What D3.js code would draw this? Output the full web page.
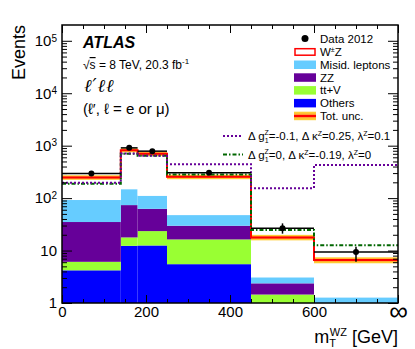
<!DOCTYPE html>
<html>
<head>
<meta charset="utf-8">
<script src="https://cdn.jsdelivr.net/npm/d3@7"></script>
<style>
  body { margin: 0; background: #fff; }
  svg { font-family: "Liberation Sans", Arial, sans-serif; }
</style>
</head>
<body>
<div id="container"></div>
<script>
let w = 415;
let h = 349;

// bins of mT(WZ) in GeV, last bin goes to infinity (drawn up to 800)
let binEdges = [0, 140, 180, 250, 450, 600, 800];

// stacked expectations, bottom to top
let others = [4.2, 12.3, 12.5, 5.5, 0.5, 0.2];
let ttV    = [1.9, 5.5, 11.0, 10.8, 0.95, 0.3];
let zz     = [28.9, 55.8, 39.0, 13.4, 0.92, 0.4];
let misid  = [57.0, 74.4, 48.5, 17.8, 0.72, 0.38];
let wz     = [156, 673, 587, 207.5, 14.7, 5.3];
// relative total uncertainty per bin
let totUnc = [0.10, 0.09, 0.09, 0.10, 0.12, 0.13];

// data 2012 with asymmetric errors
let dataVal = [296, 908, 786, 303, 26.5, 9.4];
let dataLo  = [279, 878, 758, 286, 21.0, 6.1];
let dataHi  = [313, 938, 814, 320, 33.0, 11.8];

// anomalous coupling predictions
let atgc1 = [196, 710, 640, 444, 155, 426];
let atgc2 = [188, 705, 640, 283, 24.6, 12.6];

let layerKeys   = ["others", "ttV", "zz", "misid", "wz"];
let layerColors = {others: "#0000ff", ttV: "#99ff33", zz: "#660099", misid: "#66ccff", wz: "#ffffff"};

let xTickVals = [0, 200, 400, 600, 800];
let yTickVals = [1, 10, 1e2, 1e3, 1e4, 1e5];

let viz = d3.select("#container")
  .append("svg")
    .attr("width", w)
    .attr("height", h)
    .style("background-color", "white");

let padL = 62, padR = 398, padT = 25, padB = 303;

let xScale = d3.scaleLinear().domain([0, 800]).range([padL, padR]);
let yScale = d3.scaleLog().domain([1, 2e5]).range([padB, padT]).clamp(true);

// rows for the stack
let rows = binEdges.slice(0, -1).map(function(e, i){
  return {lo: e, hi: binEdges[i+1], others: others[i], ttV: ttV[i], zz: zz[i], misid: misid[i], wz: wz[i]};
});
let stacked = d3.stack().keys(layerKeys)(rows);

let plot = viz.append("g").attr("class", "plot");

// filled histograms
plot.selectAll(".layer").data(stacked).enter()
  .append("g")
    .attr("class", "layer")
    .attr("fill", function(d){ return layerColors[d.key]; })
  .selectAll("rect").data(function(d){ return d; }).enter()
  .append("rect")
    .attr("x", function(d){ return xScale(d.data.lo); })
    .attr("width", function(d){ return xScale(d.data.hi) - xScale(d.data.lo); })
    .attr("y", function(d){ return yScale(Math.max(d[1], 0.5)); })
    .attr("height", function(d){ return yScale(Math.max(d[0], 0.5)) - yScale(Math.max(d[1], 0.5)); });

let totals = stacked[stacked.length - 1].map(function(d){ return d[1]; });

// total uncertainty band
plot.selectAll(".band").data(totals).enter()
  .append("rect")
    .attr("class", "band")
    .attr("x", function(d, i){ return xScale(binEdges[i]); })
    .attr("width", function(d, i){ return xScale(binEdges[i+1]) - xScale(binEdges[i]); })
    .attr("y", function(d, i){ return yScale(d * (1 + totUnc[i])); })
    .attr("height", function(d, i){ return yScale(d * (1 - totUnc[i])) - yScale(d * (1 + totUnc[i])); })
    .attr("fill", "#ffcc33");
plot.selectAll(".band2").data(totals).enter()
  .append("rect")
    .attr("class", "band2")
    .attr("x", function(d, i){ return xScale(binEdges[i]); })
    .attr("width", function(d, i){ return xScale(binEdges[i+1]) - xScale(binEdges[i]); })
    .attr("y", function(d, i){ return yScale(d * (1 + totUnc[i] * 0.5)); })
    .attr("height", function(d, i){ return yScale(d * (1 - totUnc[i] * 0.5)) - yScale(d * (1 + totUnc[i] * 0.5)); })
    .attr("fill", "#ff9933");

// helper: step outline of a histogram
function stepPoints(vals){
  let pts = vals.map(function(v, i){ return [binEdges[i], v]; });
  pts.push([binEdges[binEdges.length - 1], vals[vals.length - 1]]);
  return pts;
}
let stepLine = d3.line()
  .x(function(d){ return xScale(d[0]); })
  .y(function(d){ return yScale(d[1]); })
  .curve(d3.curveStepAfter);

plot.append("path")
  .attr("d", stepLine(stepPoints(totals)))
  .attr("fill", "none")
  .attr("stroke", "#ff0000")
  .attr("stroke-width", 2);

plot.append("path")
  .attr("d", stepLine(stepPoints(atgc2)))
  .attr("fill", "none")
  .attr("stroke", "#006600")
  .attr("stroke-width", 2)
  .attr("stroke-dasharray", "4,2,1.5,2");

plot.append("path")
  .attr("d", stepLine(stepPoints(atgc1)))
  .attr("fill", "none")
  .attr("stroke", "#660099")
  .attr("stroke-width", 2)
  .attr("stroke-dasharray", "2,2");

// data points
let dataG = plot.selectAll(".datagroup").data(dataVal).enter()
  .append("g").attr("class", "datagroup");
dataG.append("line")
  .attr("x1", function(d, i){ return xScale(binEdges[i]); })
  .attr("x2", function(d, i){ return xScale(binEdges[i+1]); })
  .attr("y1", function(d){ return yScale(d); })
  .attr("y2", function(d){ return yScale(d); })
  .attr("stroke", "black").attr("stroke-width", 1.5);
dataG.append("line")
  .attr("x1", function(d, i){ return xScale((binEdges[i] + binEdges[i+1]) / 2); })
  .attr("x2", function(d, i){ return xScale((binEdges[i] + binEdges[i+1]) / 2); })
  .attr("y1", function(d, i){ return yScale(dataHi[i]); })
  .attr("y2", function(d, i){ return yScale(dataLo[i]); })
  .attr("stroke", "black").attr("stroke-width", 1.5);
dataG.append("circle")
  .attr("cx", function(d, i){ return xScale((binEdges[i] + binEdges[i+1]) / 2); })
  .attr("cy", function(d){ return yScale(d); })
  .attr("r", 3)
  .attr("fill", "black");

// axes, ROOT style ticks pointing inwards on all four sides
let minorX = d3.range(0, 801, 50);
let minorY = [];
for (let p = 0; p < 6; p++) {
  for (let k = 2; k <= 9; k++) {
    if (k * Math.pow(10, p) < 2e5) minorY.push(k * Math.pow(10, p));
  }
}

let xAxisGroup = viz.append("g").attr("class", "xaxis")
  .attr("transform", "translate(0," + padB + ")")
  .call(d3.axisBottom(xScale).tickValues(xTickVals).tickSize(-8).tickPadding(3)
    .tickFormat(function(d){ return d == 800 ? "∞" : d; }));
viz.append("g").attr("transform", "translate(0," + padB + ")")
  .call(d3.axisBottom(xScale).tickValues(minorX).tickSize(-4).tickFormat(""));
viz.append("g").attr("transform", "translate(0," + padT + ")")
  .call(d3.axisTop(xScale).tickValues(xTickVals).tickSize(-8).tickFormat(""));
viz.append("g").attr("transform", "translate(0," + padT + ")")
  .call(d3.axisTop(xScale).tickValues(minorX).tickSize(-4).tickFormat(""));

let yAxisGroup = viz.append("g").attr("class", "yaxis")
  .attr("transform", "translate(" + padL + ",0)")
  .call(d3.axisLeft(yScale).tickValues(yTickVals).tickSize(-10).tickPadding(5).tickFormat(""));
viz.append("g").attr("transform", "translate(" + padL + ",0)")
  .call(d3.axisLeft(yScale).tickValues(minorY).tickSize(-5).tickFormat(""));
viz.append("g").attr("transform", "translate(" + padR + ",0)")
  .call(d3.axisRight(yScale).tickValues(yTickVals).tickSize(-10).tickFormat(""));
viz.append("g").attr("transform", "translate(" + padR + ",0)")
  .call(d3.axisRight(yScale).tickValues(minorY).tickSize(-5).tickFormat(""));

viz.selectAll(".domain").remove();
viz.selectAll(".tick line").attr("stroke", "black").attr("stroke-width", 1);

xAxisGroup.selectAll(".tick text")
  .attr("font-size", function(d){ return d == 800 ? 26 : 15; })
  .attr("dy", function(d){ return d == 800 ? "0.55em" : "0.71em"; })
  .attr("fill", "black")
  .style("font-family", "'Liberation Sans', Arial, sans-serif");

yAxisGroup.selectAll(".tick text")
  .attr("font-size", 15)
  .attr("fill", "black")
  .style("font-family", "'Liberation Sans', Arial, sans-serif")
  .each(function(d){
    let t = d3.select(this);
    let p = Math.round(Math.log10(d));
    if (p == 0) { t.text("1"); }
    else if (p == 1) { t.text("10"); }
    else {
      t.text("10");
      t.append("tspan").attr("dy", "-0.45em").attr("font-size", 10).text(p);
    }
  });

// frame
viz.append("rect")
  .attr("x", padL).attr("y", padT)
  .attr("width", padR - padL).attr("height", padB - padT)
  .attr("fill", "none").attr("stroke", "black").attr("stroke-width", 1.5);

// axis titles
viz.append("text")
  .attr("transform", "translate(25," + padT + ") rotate(-90)")
  .attr("text-anchor", "end")
  .attr("font-size", 18)
  .text("Events");

let xTitle = viz.append("text")
  .attr("x", padR).attr("y", 343)
  .attr("text-anchor", "end")
  .attr("font-size", 18);
xTitle.append("tspan").text("m");
xTitle.append("tspan").attr("font-size", 11).attr("dy", 4).text("T");
xTitle.append("tspan").attr("font-size", 11).attr("dx", -6).attr("dy", -11).text("WZ");
xTitle.append("tspan").attr("dy", 7).text(" [GeV]");

// ATLAS label and info
viz.append("text")
  .attr("x", 83).attr("y", 48)
  .attr("font-size", 16).attr("font-weight", "bold").attr("font-style", "italic")
  .text("ATLAS");

let lumi = viz.append("text").attr("x", 83).attr("y", 69).attr("font-size", 12);
lumi.append("tspan").text("√");
lumi.append("tspan").style("text-decoration", "overline").text("s");
lumi.append("tspan").text(" = 8 TeV, 20.3 fb");
lumi.append("tspan").attr("dy", -5).attr("font-size", 8).text("-1");

viz.append("text")
  .attr("x", 84).attr("y", 92)
  .attr("font-size", 18).attr("font-style", "italic")
  .attr("letter-spacing", 1)
  .style("font-family", "'DejaVu Serif', serif")
  .text("ℓ′ℓℓ");

viz.append("text")
  .attr("x", 83).attr("y", 114)
  .attr("font-size", 15)
  .text("(ℓ′, ℓ = e or μ)");

// legend
let legendLabels = ["W±Z", "Misid. leptons", "ZZ", "tt+V", "Others", "Tot. unc."];
let legendKeys = ["wz", "misid", "zz", "ttV", "others", "unc"];
let legend = viz.append("g").attr("class", "legend").attr("font-size", 11.5);

legend.append("circle").attr("cx", 305).attr("cy", 38.5).attr("r", 3.5).attr("fill", "black");
legend.append("text").attr("x", 320).attr("y", 42.5).text("Data 2012");

let entries = legend.selectAll(".entry").data(legendKeys).enter()
  .append("g")
    .attr("class", "entry")
    .attr("transform", function(d, i){ return "translate(294," + (47.7 + i * 12.8) + ")"; });

entries.filter(function(d){ return d != "unc"; })
  .append("rect")
    .attr("x", function(d){ return d == "wz" ? 1 : 0; })
    .attr("y", function(d){ return d == "wz" ? 1 : 0; })
    .attr("width", function(d){ return d == "wz" ? 20 : 22; })
    .attr("height", function(d){ return d == "wz" ? 6.5 : 8.5; })
    .attr("fill", function(d){ return layerColors[d]; })
    .attr("stroke", function(d){ return d == "wz" ? "#ff0000" : "none"; })
    .attr("stroke-width", 1.5);

let uncEntry = entries.filter(function(d){ return d == "unc"; });
uncEntry.append("rect").attr("width", 22).attr("height", 8.5).attr("fill", "#ffcc33");
uncEntry.append("rect").attr("y", 2).attr("width", 22).attr("height", 4.5).attr("fill", "#ff9933");
uncEntry.append("rect").attr("y", 3.3).attr("width", 22).attr("height", 2).attr("fill", "#ff0000");

entries.append("text")
  .attr("x", 26).attr("y", 8.3)
  .each(function(d, i){
    let t = d3.select(this);
    if (d == "wz") {
      t.append("tspan").text("W");
      t.append("tspan").attr("font-size", 7).attr("dy", -4).text("±");
      t.append("tspan").attr("dy", 4).text("Z");
    } else {
      t.text(legendLabels[i]);
    }
  });

// anomalous coupling legend lines
let tgcLegend = viz.append("g").attr("font-size", 11.5);
tgcLegend.append("line")
  .attr("x1", 223).attr("x2", 243).attr("y1", 136).attr("y2", 136)
  .attr("stroke", "#660099").attr("stroke-width", 2).attr("stroke-dasharray", "2,2");
tgcLegend.append("line")
  .attr("x1", 223).attr("x2", 243).attr("y1", 154.5).attr("y2", 154.5)
  .attr("stroke", "#006600").attr("stroke-width", 2).attr("stroke-dasharray", "4,2,1.5,2");

function tgcText(yPos, g, k, l){
  let t = tgcLegend.append("text").attr("x", 248).attr("y", yPos);
  t.append("tspan").text("Δ g");
  t.append("tspan").attr("font-size", 7).attr("dy", 3).text("1");
  t.append("tspan").attr("font-size", 7).attr("dx", -4).attr("dy", -8).text("Z");
  t.append("tspan").attr("dy", 5).text("=" + g + ", Δ κ");
  t.append("tspan").attr("font-size", 7).attr("dy", -4).text("Z");
  t.append("tspan").attr("dy", 4).text("=" + k + ", λ");
  t.append("tspan").attr("font-size", 7).attr("dy", -4).text("Z");
  t.append("tspan").attr("dy", 4).text("=" + l);
}
tgcText(140, "-0.1", "0.25", "0.1");
tgcText(158.5, "0", "-0.19", "0");
</script>
</body>
</html>
